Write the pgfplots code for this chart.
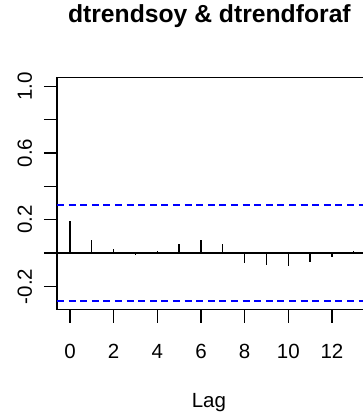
\documentclass[border=0pt]{standalone}
\usepackage{pgfplots}
\pgfplotsset{compat=1.18}
\usepackage{fontspec}
\setmainfont{Liberation Sans}
\begin{document}
\begin{tikzpicture}
\begin{axis}[
  at={(0,0)}, anchor=south west,
  scale only axis,
  width=306.8pt, height=231.8pt,
  xmin=-0.5955, xmax=13.459,
  ymin=-0.3385, ymax=1.0515,
  axis line style={black, line width=1.3pt},
  xtick={0,2,...,12},
  ytick={-0.2,0,0.2,0.4,0.6,0.8,1.0},
  yticklabels={-0.2,,0.2,,0.6,,1.0},
  tick align=outside,
  xtick pos=bottom, ytick pos=left,
  major tick length=13pt,
  tick style={black, line width=1.3pt},
  /pgf/number format/assume math mode=true,
  ticklabel style={font=\fontsize{20.5}{24}\selectfont},
  xticklabel style={anchor=base, yshift=-36pt},
  yticklabel style={rotate=90, anchor=base, yshift=12pt},
  xlabel={Lag},
  xlabel style={at={(axis description cs:0.5,0)}, anchor=base, yshift=-98pt, xshift=-1.5pt, font=\fontsize{20.5}{24}\selectfont},
  title={dtrendsoy \& dtrendforaf},
  title style={at={(axis description cs:0.5,1)}, anchor=base, yshift=49.5pt, xshift=-1pt, font=\fontsize{24.7}{28}\selectfont\bfseries},
  clip=false,
]
\addplot [black, line width=1.3pt, forget plot] coordinates {(-0.5955,0) (13.459,0)};
\addplot [ycomb, black, line width=1.3pt, mark=none] coordinates {
(0,0.192) (1,0.08) (2,0.024) (3,-0.012) (4,0.013) (5,0.055) (6,0.081)
(7,0.054) (8,-0.061) (9,-0.071) (10,-0.079) (11,-0.052) (12,-0.025) (13,0.013)
};
\addplot [blue, line width=1.4pt, dash pattern=on 7pt off 4.6pt] coordinates {(-0.5955,0.287) (13.459,0.287)};
\addplot [blue, line width=1.4pt, dash pattern=on 7pt off 4.6pt] coordinates {(-0.5955,-0.287) (13.459,-0.287)};
\end{axis}
\pgfresetboundingbox
\path (-57pt,-106.5pt) rectangle (306pt,309.5pt);
\end{tikzpicture}
\end{document}
